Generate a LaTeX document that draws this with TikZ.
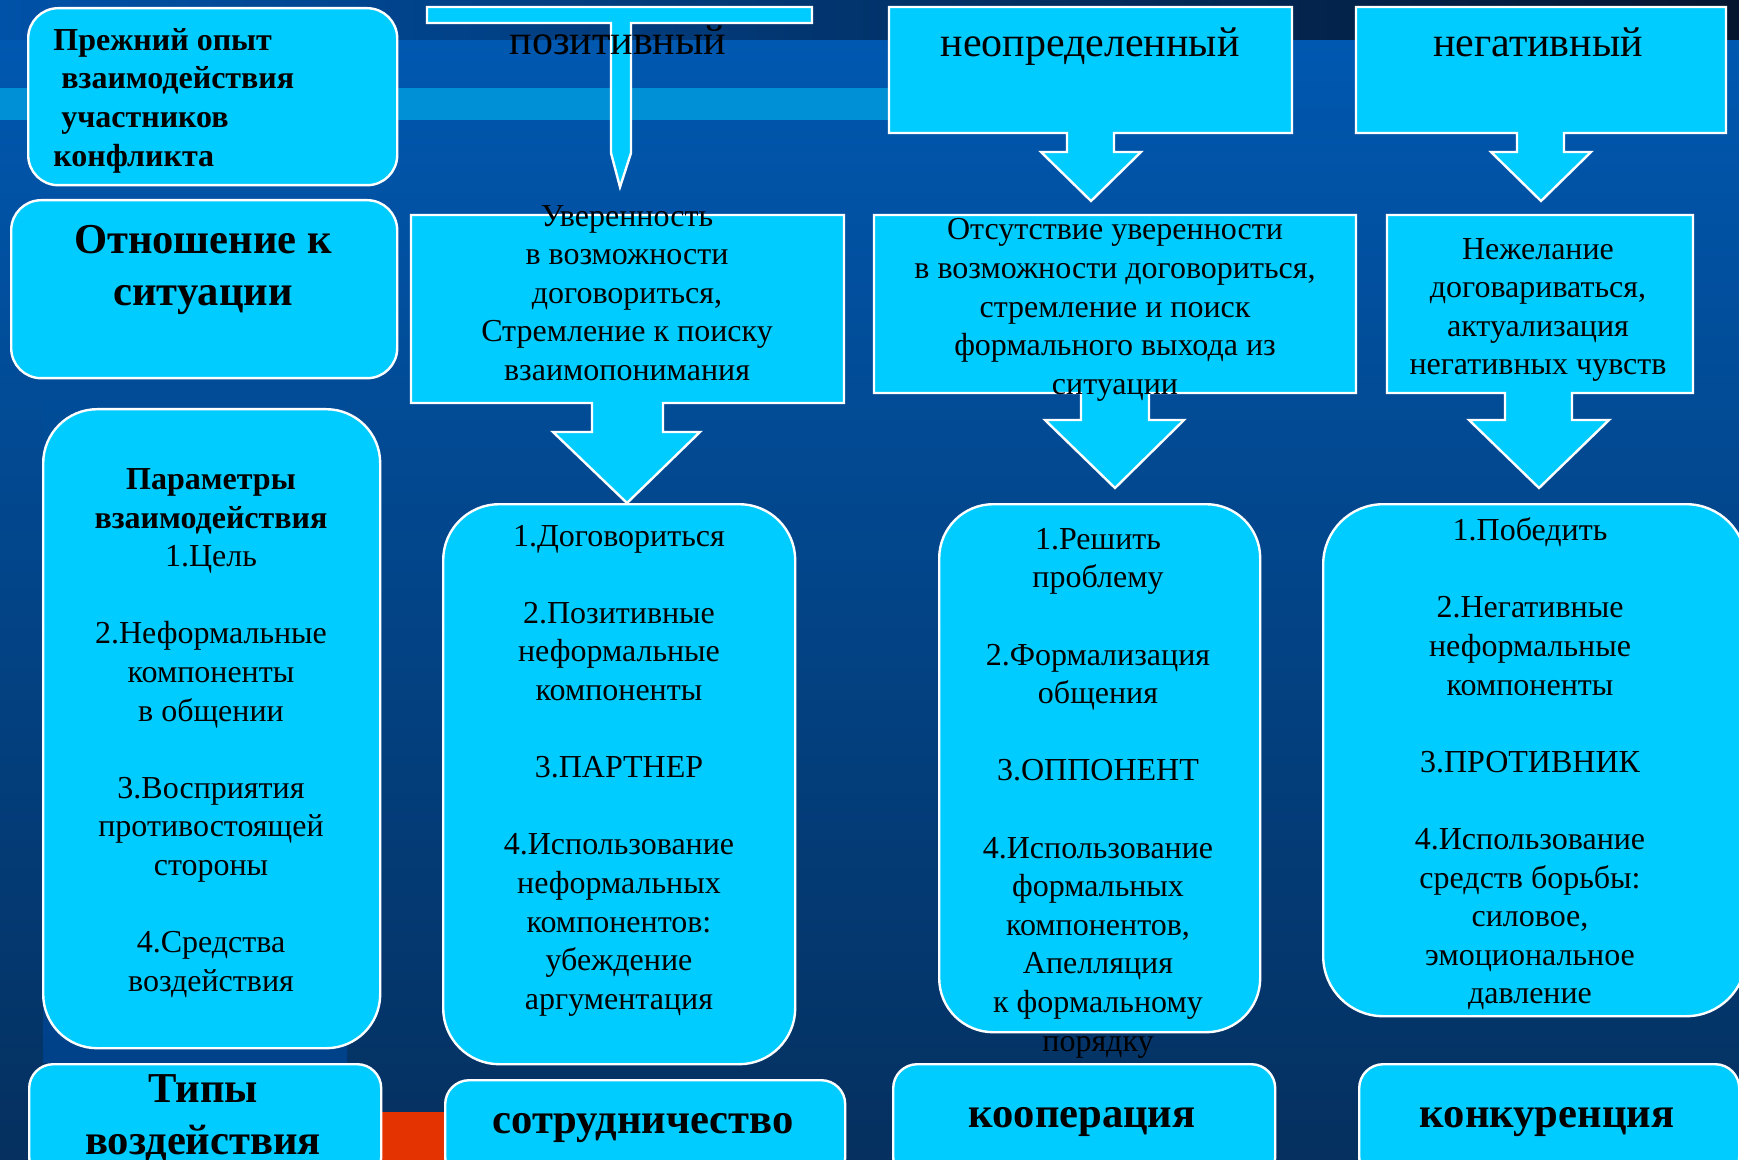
\documentclass[tikz,border=0pt]{standalone}
\usepackage{fontspec}
\setmainfont{Liberation Serif}
\usetikzlibrary{calc}
\definecolor{boxcyan}{RGB}{0,204,255}
\definecolor{bgtop}{RGB}{0,88,176}
\definecolor{bgbot}{RGB}{5,48,95}
\definecolor{stripL}{RGB}{0,82,168}
\definecolor{stripM}{RGB}{0,65,138}
\definecolor{stripR}{RGB}{5,21,48}
\definecolor{bandc}{RGB}{0,144,213}
\definecolor{redc}{RGB}{228,50,0}
\definecolor{colbg}{RGB}{0,66,138}
\newcommand\bl{\\[19.3pt]}
\newcommand\mkbox[6]{\node[rbox, rounded corners=#6, minimum width={(#4-#2)*0.5pt}, minimum height={(#5-#3)*0.5pt}] (#1) at (#2,#3) {};}
\begin{document}
\begin{tikzpicture}[x=0.5pt,y=-0.5pt,
  shp/.style={fill=boxcyan, draw=white, line width=1.2pt, line join=miter},
  rbox/.style={shp, rectangle, inner sep=0pt, anchor=north west},
  txt/.style={align=center, inner sep=0pt, text=black},
  body/.style={txt, font=\fontsize{16}{19.3}\selectfont},
  head/.style={txt, anchor=base, font=\fontsize{21}{24}\selectfont},
  big/.style={txt, font=\fontsize{21.3}{26}\selectfont\bfseries},
  bot/.style={txt, anchor=base, font=\fontsize{21.3}{24}\selectfont\bfseries}]
\useasboundingbox (0,0) rectangle (1739,1160);
% background
\shade[top color=bgtop, bottom color=bgbot] (0,40) rectangle (1739,1160);
\shade[left color=stripL, middle color=stripM, right color=stripR] (0,0) rectangle (1739,40);
\fill[bandc] (0,88) rectangle (890,120);
\shade[top color=bgtop!70!bgbot, bottom color=colbg] (43,400) rectangle (347,1062);
\fill[redc] (370,1112) rectangle (450,1160);
% left column
\mkbox{b1}{27}{7}{396}{184}{15pt}
\mkbox{b2}{10}{199}{396}{377}{15pt}
\mkbox{b3}{42}{408}{379}{1047}{27pt}
\mkbox{b4}{28}{1063}{380}{1180}{12pt}
% top callouts
\draw[shp] (427,7) -- (812,7) -- (812,23) -- (631,23) -- (631,153) -- (620,187) -- (611,153) -- (611,23) -- (427,23) -- cycle;
\draw[shp] (889,7) -- (1292,7) -- (1292,133) -- (1114,133) -- (1114,152) -- (1141,152) -- (1091,201) -- (1041,152) -- (1067,152) -- (1067,133) -- (889,133) -- cycle;
\draw[shp] (1356,7) -- (1726,7) -- (1726,133) -- (1564,133) -- (1564,152) -- (1591,152) -- (1541,201) -- (1491,152) -- (1517,152) -- (1517,133) -- (1356,133) -- cycle;
% second row callouts
\draw[shp] (411,215) -- (844,215) -- (844,403) -- (663,403) -- (663,432) -- (700,432) -- (627,503) -- (553,432) -- (592,432) -- (592,403) -- (411,403) -- cycle;
\draw[shp] (874,215) -- (1356,215) -- (1356,393) -- (1149,393) -- (1149,420) -- (1184,420) -- (1115,488) -- (1045,420) -- (1081,420) -- (1081,393) -- (874,393) -- cycle;
\draw[shp] (1387,215) -- (1693,215) -- (1693,393) -- (1572,393) -- (1572,420) -- (1609,420) -- (1539,488) -- (1469,420) -- (1505,420) -- (1505,393) -- (1387,393) -- cycle;
% third row
\mkbox{c2}{442}{503}{794}{1063}{28pt}
\mkbox{c3}{938}{503}{1259}{1031}{27pt}
\mkbox{c4}{1322}{503}{1745}{1015}{30pt}
% bottom row
\mkbox{d2}{444}{1079}{844}{1180}{12pt}
\mkbox{d3}{892}{1063}{1274}{1180}{12pt}
\mkbox{d4}{1358}{1063}{1738}{1180}{12pt}
% texts
\node[txt, align=left, anchor=west, font=\fontsize{16}{19.3}\selectfont\bfseries] (t1) at (53,100.5) {Прежний опыт\\\ взаимодействия\\\ участников\\конфликта};
\node[big] (t2) at (203,269.5) {Отношение к\\ситуации};
\node[body] (t3) at (211,733) {\textbf{Параметры}\\\textbf{взаимодействия}\\1.Цель\bl 2.Неформальные\\компоненты\\в общении\bl 3.Восприятия\\противостоящей\\стороны\bl 4.Средства\\воздействия};
\node[big] (t4) at (203,1118.5) {Типы\\воздействия};
\node[head] (h1) at (618,55) {позитивный};
\node[head] (h2) at (1090,57) {неопределенный};
\node[head] (h3) at (1538,57) {негативный};
\node[body] (s1) at (627,293) {Уверенность\\в возможности\\договориться,\\Стремление к поиску\\взаимопонимания};
\node[body] (s2) at (1115,310) {Отсутствие уверенности\\в возможности договориться,\\стремление и поиск\\формального выхода из\\ситуации};
\node[body] (s3) at (1538,310) {Нежелание\\договариваться,\\актуализация\\негативных чувств};
\node[body] (p2) at (619,770.5) {1.Договориться\bl 2.Позитивные\\неформальные\\компоненты\bl 3.ПАРТНЕР\bl 4.Использование\\неформальных\\компонентов:\\убеждение\\аргументация};
\node[body] (p3) at (1098,793) {1.Решить\\проблему\bl 2.Формализация\\общения\bl 3.ОППОНЕНТ\bl 4.Использование\\формальных\\компонентов,\\Апелляция\\к формальному\\порядку};
\node[body] (p4) at (1530,764) {1.Победить\bl 2.Негативные\\неформальные\\компоненты\bl 3.ПРОТИВНИК\bl 4.Использование\\средств борьбы:\\силовое,\\эмоциональное\\давление};
\node[bot] (u2) at (643,1133) {сотрудничество};
\node[bot] (u3) at (1082,1127) {кооперация};
\node[bot] (u4) at (1547,1127) {конкуренция};
\end{tikzpicture}
\end{document}
